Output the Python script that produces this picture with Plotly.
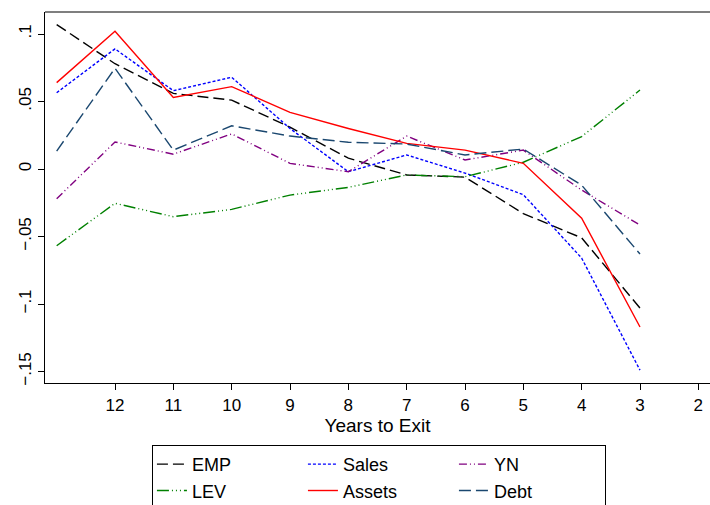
import plotly.graph_objects as go

years = [13, 12, 11, 10, 9, 8, 7, 6, 5, 4, 3]
emp = [0.107, 0.078, 0.056, 0.051, 0.031, 0.008, -0.0044, -0.006, -0.033, -0.051, -0.103]
sales = [0.0565, 0.089, 0.058, 0.068, 0.030, -0.002, 0.0104, -0.003, -0.019, -0.066, -0.149]
yn = [-0.022, 0.020, 0.011, 0.026, 0.0042, -0.002, 0.0244, 0.0067, 0.014, -0.0156, -0.0415]
lev = [-0.0568, -0.0254, -0.0353, -0.0299, -0.0193, -0.0136, -0.0044, -0.0057, 0.005, 0.024, 0.0585]
assets = [0.064, 0.102, 0.053, 0.061, 0.042, 0.030, 0.019, 0.014, 0.0042, -0.0365, -0.117]
debt = [0.0133, 0.0746, 0.014, 0.032, 0.0244, 0.0198, 0.0185, 0.0104, 0.0148, -0.012, -0.063]

x_ticks = [12, 11, 10, 9, 8, 7, 6, 5, 4, 3, 2]
y_ticks = [0.1, 0.05, 0, -0.05, -0.1, -0.15]
y_ticktext = [".1", ".05", "0", "\u2212.05", "\u2212.1", "\u2212.15"]

# (name, values, colour, dash, legend column)
series = [
    ("EMP", emp, "#000000", "11px,5px", "c1"),
    ("Sales", sales, "#0000ff", "3px,2px", "c2"),
    ("YN", yn, "#800080", "8px,3px,1px,3px,1px,3px", "c3"),
    ("LEV", lev, "#008000", "12px,3px,1px,3px,1px,3px,1px,3px", "c1"),
    ("Assets", assets, "#ff0000", "solid", "c2"),
    ("Debt", debt, "#1a476f", "12px,5px", "c3"),
]

fig = go.Figure()
for name, vals, color, dash, grp in series:
    fig.add_trace(go.Scatter(
        x=years, y=vals, name=name, mode="lines", legendgroup=grp,
        line=dict(color=color, width=1.4, dash=dash),
    ))

font_family = "Liberation Sans, Arial, sans-serif"
fig.update_layout(
    width=710, height=505,
    margin=dict(l=45, r=0, t=12, b=122),
    plot_bgcolor="white", paper_bgcolor="white",
    font=dict(family=font_family, size=17, color="black"),
    xaxis=dict(
        range=[13.2, 1.8], tickvals=x_ticks,
        ticks="outside", ticklen=6, tickcolor="black",
        showline=True, linecolor="black", linewidth=1.3,
        showgrid=False, zeroline=False,
        tickfont=dict(size=17),
        title=dict(text="Years to Exit", font=dict(size=19), standoff=4),
    ),
    yaxis=dict(
        range=[-0.1585, 0.1163], tickvals=y_ticks, ticktext=y_ticktext,
        tickangle=-90, ticks="outside", ticklen=6, tickcolor="black",
        showline=True, linecolor="black", linewidth=1.3,
        showgrid=False, zeroline=False,
        tickfont=dict(size=17),
    ),
    legend=dict(
        orientation="h", xref="container", yref="container",
        x=0.214, xanchor="left", y=0.119, yanchor="top",
        bordercolor="black", borderwidth=1, bgcolor="white",
        entrywidth=106, entrywidthmode="pixels",
        traceorder="grouped", tracegroupgap=0,
        font=dict(size=18),
    ),
    shapes=[dict(type="line", xref="paper", yref="paper", x0=0, x1=1, y0=1, y1=1,
                 line=dict(color="#555555", width=1.3))],
)

fig.write_html("out.html")
